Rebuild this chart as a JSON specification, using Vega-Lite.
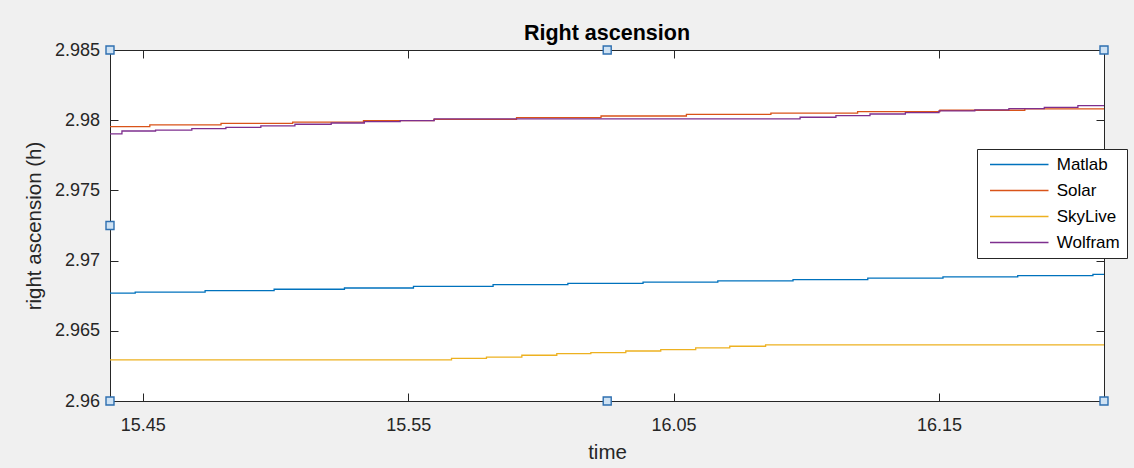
{
  "$schema": "https://vega.github.io/schema/vega-lite/v6.json",
  "width": 994,
  "height": 351,
  "autosize": "none",
  "padding": {"left": 110, "top": 50, "right": 30, "bottom": 67},
  "background": "#f0f0f0",
  "title": {"text": "Right ascension", "font": "Liberation Sans", "fontSize": 21.5, "fontWeight": "bold", "color": "#000000", "anchor": "middle", "baseline": "alphabetic", "offset": 10, "dy": 30},
  "config": {
    "view": {"fill": "white", "stroke": null},
    "axis": {
      "domainColor": "#262626", "domainWidth": 1, "tickColor": "#262626", "tickWidth": 1, "tickSize": -8,
      "labelColor": "#262626", "labelFont": "Liberation Sans", "labelFontSize": 18,
      "titleColor": "#262626", "titleFont": "Liberation Sans", "titleFontSize": 20.5, "titleFontWeight": "normal",
      "grid": false
    },
    "legend": {
      "labelFont": "Liberation Sans", "labelFontSize": 17, "labelColor": "#000000"
    }
  },
  "datasets": {
    "series": [
      {"time": "2020-01-01T15:43:46Z", "ra": 2.96769, "source": "Matlab"},
      {"time": "2020-01-01T15:44:43Z", "ra": 2.96776, "source": "Matlab"},
      {"time": "2020-01-01T15:47:21Z", "ra": 2.96786, "source": "Matlab"},
      {"time": "2020-01-01T15:49:57Z", "ra": 2.96796, "source": "Matlab"},
      {"time": "2020-01-01T15:52:36Z", "ra": 2.96805, "source": "Matlab"},
      {"time": "2020-01-01T15:55:12Z", "ra": 2.96817, "source": "Matlab"},
      {"time": "2020-01-01T15:58:12Z", "ra": 2.96829, "source": "Matlab"},
      {"time": "2020-01-01T16:01:01Z", "ra": 2.96838, "source": "Matlab"},
      {"time": "2020-01-01T16:03:51Z", "ra": 2.96847, "source": "Matlab"},
      {"time": "2020-01-01T16:06:40Z", "ra": 2.96856, "source": "Matlab"},
      {"time": "2020-01-01T16:09:30Z", "ra": 2.96865, "source": "Matlab"},
      {"time": "2020-01-01T16:12:19Z", "ra": 2.96875, "source": "Matlab"},
      {"time": "2020-01-01T16:15:09Z", "ra": 2.96884, "source": "Matlab"},
      {"time": "2020-01-01T16:17:58Z", "ra": 2.96893, "source": "Matlab"},
      {"time": "2020-01-01T16:20:48Z", "ra": 2.96902, "source": "Matlab"},
      {"time": "2020-01-01T16:21:13Z", "ra": 2.96902, "source": "Matlab"},

      {"time": "2020-01-01T15:43:46Z", "ra": 2.97954, "source": "Solar"},
      {"time": "2020-01-01T15:45:16Z", "ra": 2.97966, "source": "Solar"},
      {"time": "2020-01-01T15:47:57Z", "ra": 2.97978, "source": "Solar"},
      {"time": "2020-01-01T15:50:39Z", "ra": 2.97987, "source": "Solar"},
      {"time": "2020-01-01T15:53:19Z", "ra": 2.97997, "source": "Solar"},
      {"time": "2020-01-01T15:55:58Z", "ra": 2.98006, "source": "Solar"},
      {"time": "2020-01-01T15:59:05Z", "ra": 2.98019, "source": "Solar"},
      {"time": "2020-01-01T16:02:16Z", "ra": 2.98030, "source": "Solar"},
      {"time": "2020-01-01T16:05:29Z", "ra": 2.98042, "source": "Solar"},
      {"time": "2020-01-01T16:08:40Z", "ra": 2.98051, "source": "Solar"},
      {"time": "2020-01-01T16:11:56Z", "ra": 2.98061, "source": "Solar"},
      {"time": "2020-01-01T16:15:02Z", "ra": 2.98071, "source": "Solar"},
      {"time": "2020-01-01T16:18:14Z", "ra": 2.98080, "source": "Solar"},
      {"time": "2020-01-01T16:21:13Z", "ra": 2.98080, "source": "Solar"},

      {"time": "2020-01-01T15:43:46Z", "ra": 2.96293, "source": "SkyLive"},
      {"time": "2020-01-01T15:56:38Z", "ra": 2.96303, "source": "SkyLive"},
      {"time": "2020-01-01T15:57:57Z", "ra": 2.96313, "source": "SkyLive"},
      {"time": "2020-01-01T15:59:17Z", "ra": 2.96326, "source": "SkyLive"},
      {"time": "2020-01-01T16:00:36Z", "ra": 2.96338, "source": "SkyLive"},
      {"time": "2020-01-01T16:01:53Z", "ra": 2.96345, "source": "SkyLive"},
      {"time": "2020-01-01T16:03:12Z", "ra": 2.96356, "source": "SkyLive"},
      {"time": "2020-01-01T16:04:31Z", "ra": 2.96366, "source": "SkyLive"},
      {"time": "2020-01-01T16:05:50Z", "ra": 2.96378, "source": "SkyLive"},
      {"time": "2020-01-01T16:07:07Z", "ra": 2.96390, "source": "SkyLive"},
      {"time": "2020-01-01T16:08:28Z", "ra": 2.96400, "source": "SkyLive"},
      {"time": "2020-01-01T16:21:13Z", "ra": 2.96400, "source": "SkyLive"},

      {"time": "2020-01-01T15:43:46Z", "ra": 2.97902, "source": "Wolfram"},
      {"time": "2020-01-01T15:44:13Z", "ra": 2.97923, "source": "Wolfram"},
      {"time": "2020-01-01T15:45:29Z", "ra": 2.97930, "source": "Wolfram"},
      {"time": "2020-01-01T15:46:51Z", "ra": 2.97940, "source": "Wolfram"},
      {"time": "2020-01-01T15:48:08Z", "ra": 2.97949, "source": "Wolfram"},
      {"time": "2020-01-01T15:49:27Z", "ra": 2.97959, "source": "Wolfram"},
      {"time": "2020-01-01T15:50:44Z", "ra": 2.97971, "source": "Wolfram"},
      {"time": "2020-01-01T15:52:06Z", "ra": 2.97980, "source": "Wolfram"},
      {"time": "2020-01-01T15:53:21Z", "ra": 2.97990, "source": "Wolfram"},
      {"time": "2020-01-01T15:54:42Z", "ra": 2.97997, "source": "Wolfram"},
      {"time": "2020-01-01T15:55:59Z", "ra": 2.98009, "source": "Wolfram"},
      {"time": "2020-01-01T16:09:46Z", "ra": 2.98021, "source": "Wolfram"},
      {"time": "2020-01-01T16:11:07Z", "ra": 2.98033, "source": "Wolfram"},
      {"time": "2020-01-01T16:12:24Z", "ra": 2.98044, "source": "Wolfram"},
      {"time": "2020-01-01T16:13:44Z", "ra": 2.98054, "source": "Wolfram"},
      {"time": "2020-01-01T16:15:00Z", "ra": 2.98066, "source": "Wolfram"},
      {"time": "2020-01-01T16:16:21Z", "ra": 2.98073, "source": "Wolfram"},
      {"time": "2020-01-01T16:17:38Z", "ra": 2.98083, "source": "Wolfram"},
      {"time": "2020-01-01T16:18:58Z", "ra": 2.98092, "source": "Wolfram"},
      {"time": "2020-01-01T16:20:14Z", "ra": 2.98104, "source": "Wolfram"},
      {"time": "2020-01-01T16:21:13Z", "ra": 2.98104, "source": "Wolfram"}
    ],
    "handles": [
      {"time": "2020-01-01T15:43:46Z", "ra": 2.985},
      {"time": "2020-01-01T16:02:30Z", "ra": 2.985},
      {"time": "2020-01-01T16:21:13Z", "ra": 2.985},
      {"time": "2020-01-01T15:43:46Z", "ra": 2.9725},
      {"time": "2020-01-01T15:43:46Z", "ra": 2.96},
      {"time": "2020-01-01T16:02:30Z", "ra": 2.96},
      {"time": "2020-01-01T16:21:13Z", "ra": 2.96}
    ]
  },
  "layer": [
    {
      "data": {"name": "series"},
      "mark": {"type": "line", "interpolate": "step-after", "strokeWidth": 1.3},
      "encoding": {
        "x": {
          "field": "time", "type": "temporal",
          "scale": {"type": "utc", "domain": [
            {"year": 2020, "month": 1, "date": 1, "hours": 15, "minutes": 43, "seconds": 46, "utc": true},
            {"year": 2020, "month": 1, "date": 1, "hours": 16, "minutes": 21, "seconds": 13, "utc": true}
          ], "nice": false},
          "axis": {
            "orient": "bottom", "title": "time",
            "labelExpr": "utcFormat(datum.value, '%H.%M')",
            "values": [
              {"year": 2020, "month": 1, "date": 1, "hours": 15, "minutes": 45, "utc": true},
              {"year": 2020, "month": 1, "date": 1, "hours": 15, "minutes": 55, "utc": true},
              {"year": 2020, "month": 1, "date": 1, "hours": 16, "minutes": 5, "utc": true},
              {"year": 2020, "month": 1, "date": 1, "hours": 16, "minutes": 15, "utc": true}
            ],
            "labelPadding": 23, "titlePadding": 8, "labelFlush": false, "labelOverlap": false
          }
        },
        "y": {
          "field": "ra", "type": "quantitative",
          "scale": {"domain": [2.96, 2.985], "nice": false, "zero": false},
          "axis": {
            "orient": "left", "title": "right ascension (h)", "format": ".3~f",
            "values": [2.96, 2.965, 2.97, 2.975, 2.98, 2.985],
            "labelPadding": 18.5, "titlePadding": 10, "labelFlush": false, "labelOverlap": false
          }
        },
        "color": {
          "field": "source", "type": "nominal",
          "scale": {"domain": ["Matlab", "Solar", "SkyLive", "Wolfram"], "range": ["#0072BD", "#D95319", "#EDB120", "#7E2F8E"]},
          "legend": {
            "title": null, "orient": "none", "legendX": 867, "legendY": 99,
            "symbolType": "M-3.9,0H3.9", "symbolStrokeWidth": 1.3, "symbolSize": 225,
            "symbolOffset": 26.75, "labelOffset": 29,
            "fillColor": "white", "strokeColor": "#262626", "padding": 7,
            "rowPadding": 8, "cornerRadius": 0
          }
        }
      }
    },
    {
      "data": {"name": "series"},
      "mark": {"type": "line", "opacity": 0},
      "encoding": {
        "x": {
          "field": "time", "type": "temporal",
          "axis": {
            "orient": "top", "title": null, "labels": false, "minExtent": 0, "maxExtent": 0,
            "values": [
              {"year": 2020, "month": 1, "date": 1, "hours": 15, "minutes": 45, "utc": true},
              {"year": 2020, "month": 1, "date": 1, "hours": 15, "minutes": 55, "utc": true},
              {"year": 2020, "month": 1, "date": 1, "hours": 16, "minutes": 5, "utc": true},
              {"year": 2020, "month": 1, "date": 1, "hours": 16, "minutes": 15, "utc": true}
            ]
          }
        },
        "y": {
          "field": "ra", "type": "quantitative",
          "axis": {"orient": "right", "title": null, "labels": false, "minExtent": 0, "maxExtent": 0, "values": [2.96, 2.965, 2.97, 2.975, 2.98, 2.985]}
        }
      }
    },
    {
      "data": {"name": "handles"},
      "mark": {"type": "point", "shape": "square", "size": 64, "filled": true, "fill": "#cfe2f3", "stroke": "#2e6fb0", "strokeWidth": 1.4, "opacity": 1, "clip": false},
      "encoding": {
        "x": {"field": "time", "type": "temporal", "axis": null},
        "y": {"field": "ra", "type": "quantitative", "axis": null}
      }
    }
  ],
  "resolve": {"axis": {"x": "independent", "y": "independent"}}
}
